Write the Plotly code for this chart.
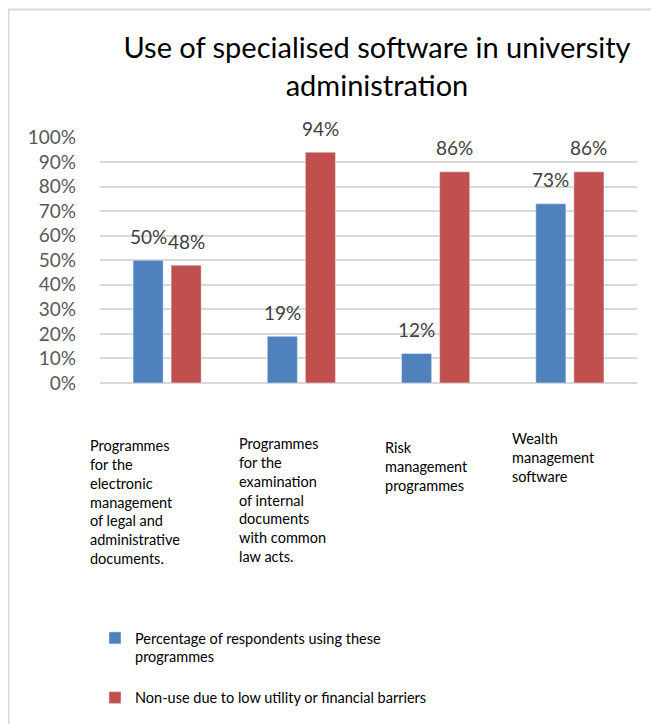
import plotly.graph_objects as go

categories = [
    "Programmes<br>for the<br>electronic<br>management<br>of legal and<br>administrative<br>documents.",
    "Programmes<br>for the<br>examination<br>of internal<br>documents<br>with common<br>law acts.",
    "Risk<br>management<br>programmes",
    "Wealth<br>management<br>software",
]
cat_keys = ["c1", "c2", "c3", "c4"]
series_names = [
    "Percentage of respondents using these<br>programmes",
    "Non-use due to low utility or financial barriers",
]
using_values = [0.50, 0.19, 0.12, 0.73]
nonuse_values = [0.48, 0.94, 0.86, 0.86]
tick_values = [0, 0.1, 0.2, 0.3, 0.4, 0.5, 0.6, 0.7, 0.8, 0.9, 1.0]
tick_labels = ["0%", "10%", "20%", "30%", "40%", "50%", "60%", "70%", "80%", "90%", "100%"]

# figure is drawn with the page's 8px body margin, so size is window - 8
W, H = 651, 716
L, R, T, B = 92, 22, 129, 341
PW, PH = W - L - R, H - T - B
FONT = "Lato"

def px_x(X):
    return (X - L) / PW

def px_y(Y):
    return (H - B - Y) / PH

BLUE = "#4f81bd"
RED = "#c0504d"

fig = go.Figure()
fig.add_trace(go.Bar(x=cat_keys, y=using_values, name=series_names[0], marker_color=BLUE,
                     legendgroup="a"))
fig.add_trace(go.Bar(x=cat_keys, y=nonuse_values, name=series_names[1], marker_color=RED,
                     legendgroup="b"))

annotations = []
for vals, shift in ((using_values, -19), (nonuse_values, 19)):
    for k, v in zip(cat_keys, vals):
        annotations.append(dict(x=k, y=v, xref="x", yref="y", text=f"{round(v*100)}%",
                                showarrow=False, xshift=shift, yshift=24, yanchor="middle",
                                font=dict(family=FONT, size=19, color="#404040")))

label_shift = [-79, -64, -53, -60]
label_top = [427, 425, 429, 420]
for k, txt, sh, top in zip(cat_keys, categories, label_shift, label_top):
    annotations.append(dict(x=k, y=px_y(top), xref="x", yref="paper", text=txt, showarrow=False,
                            xanchor="left", yanchor="top", align="left", xshift=sh,
                            font=dict(family=FONT, size=14.5, color="#000000")))

fig.update_layout(
    width=W, height=H,
    margin=dict(l=L, r=R, t=T, b=B, autoexpand=False),
    paper_bgcolor="white", plot_bgcolor="white",
    title=dict(text="Use of specialised software in university<br>administration",
               x=369 / W, xanchor="center", xref="container",
               y=1 - 50 / H, yanchor="top", yref="container",
               font=dict(family=FONT, size=29, color="#000000")),
    barmode="group", bargap=0.433, bargroupgap=0.21,
    xaxis=dict(range=[-0.5, 3.5], showticklabels=False, showgrid=False, zeroline=False,
               showline=False, ticks="", fixedrange=True),
    yaxis=dict(range=[0, 1.002], tickvals=tick_values, ticktext=tick_labels,
               showgrid=True, gridcolor="#d9d9d9", gridwidth=1.5,
               zeroline=True, zerolinecolor="#d9d9d9", zerolinewidth=1.5,
               showline=False, ticks="", ticklabelstandoff=23,
               tickfont=dict(family=FONT, size=19, color="#595959")),
    legend=dict(x=px_x(87), y=px_y(614), xanchor="left", yanchor="top",
                orientation="v", valign="top", tracegroupgap=19,
                font=dict(family=FONT, size=14.5, color="#000000"),
                bgcolor="rgba(0,0,0,0)"),
    annotations=annotations,
    shapes=[dict(type="rect", xref="paper", yref="paper",
                 x0=px_x(0.5), x1=px_x(700), y0=px_y(760), y1=px_y(1.5),
                 line=dict(color="#d9d9d9", width=2), layer="below")],
)

fig.write_html("out.html")
